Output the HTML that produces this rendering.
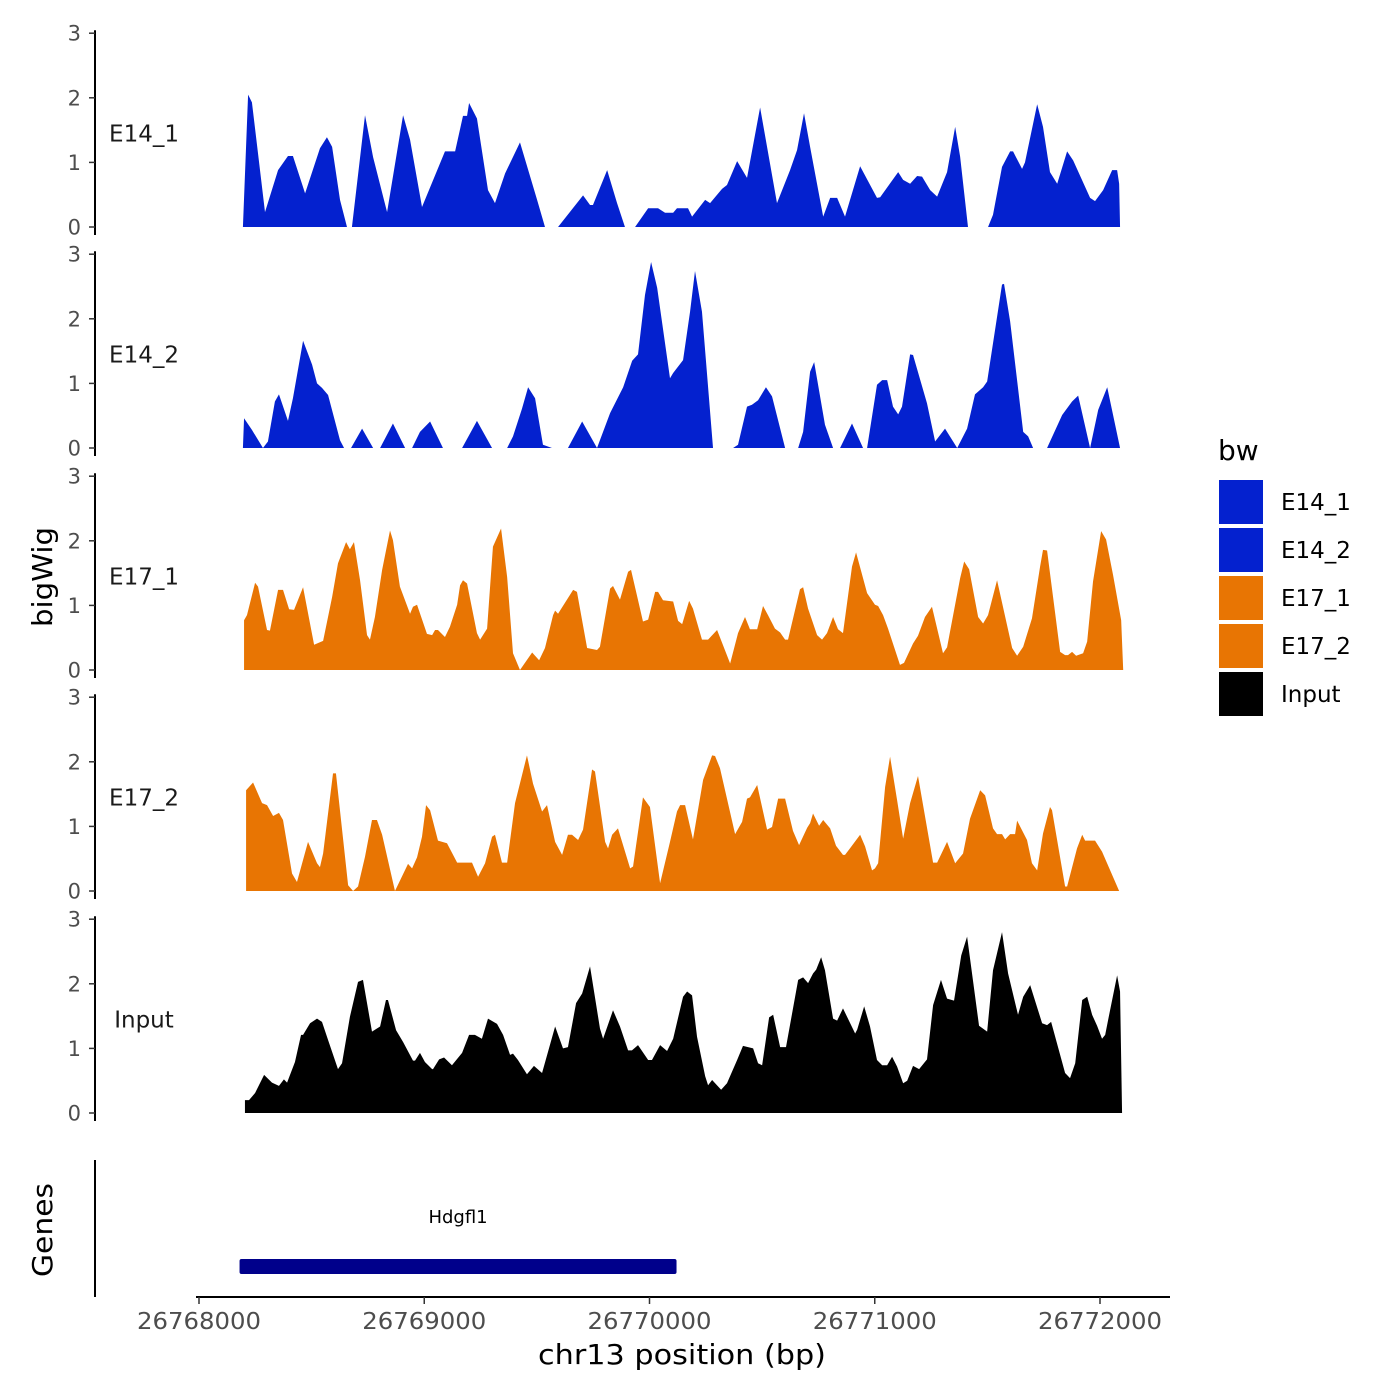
<!DOCTYPE html>
<html><head><meta charset="utf-8"><style>
html,body{margin:0;padding:0;background:#fff;}
svg{display:block;font-family:"DejaVu Sans","Liberation Sans",sans-serif;}
</style></head><body>
<svg id="chart" width="1400" height="1400" viewBox="0 0 1400 1400" xmlns="http://www.w3.org/2000/svg">
<rect width="1400" height="1400" fill="#fff"/>
<g id="tracks"></g>
<text transform="translate(52,577) rotate(-90)" text-anchor="middle" font-size="28" textLength="100" lengthAdjust="spacingAndGlyphs" fill="#000">bigWig</text>
<line x1="95" y1="1160" x2="95" y2="1297" stroke="#000" stroke-width="2"/>
<text transform="translate(52,1230) rotate(-90)" text-anchor="middle" font-size="28" textLength="94" lengthAdjust="spacingAndGlyphs" fill="#000">Genes</text>
<g id="genes"></g>
<g id="xaxis"></g>
<text x="682" y="1364" text-anchor="middle" font-size="28" textLength="288" lengthAdjust="spacingAndGlyphs" fill="#000">chr13 position (bp)</text>
<g id="legend">
<text x="1218" y="460" font-size="28" fill="#000">bw</text>
</g>
</svg>
<script>
// positions: bp offset from 26768000; values: bigWig signal
const trackNames = ["E14_1","E14_2","E17_1","E17_2","Input"];
const trackColors = ["#0421cf","#0421cf","#e87503","#e87503","#000000"];
const xTicks = [26768000,26769000,26770000,26771000,26772000];
const yTicks = [0,1,2,3];
const geneNames = ["Hdgfl1"];
const geneStarts = [26768180];
const geneEnds = [26770120];

const e14_1Pos = [195,218,235,293,351,395,417,471,537,568,591,626,657,679,737,773,835,906,937,990,1092,1137,1172,1190,1199,1234,1283,1314,1359,1425,1501,1536,1594,1705,1736,1749,1812,1856,1891,1936,1994,2038,2069,2105,2122,2171,2189,2247,2269,2322,2344,2389,2433,2491,2566,2624,2655,2686,2713,2771,2802,2833,2868,2935,3010,3024,3104,3126,3157,3188,3210,3246,3277,3321,3357,3379,3414,3503,3525,3565,3601,3614,3654,3667,3721,3747,3778,3810,3854,3881,3956,3978,4014,4054,4076,4085,4089];
const e14_1Val = [0,2.05,1.93,0.23,0.88,1.1,1.1,0.52,1.22,1.39,1.24,0.42,0,0,1.73,1.08,0.23,1.73,1.35,0.31,1.17,1.17,1.72,1.72,1.92,1.68,0.57,0.37,0.83,1.31,0.42,0,0,0.49,0.34,0.34,0.88,0.37,0,0,0.29,0.29,0.22,0.22,0.29,0.29,0.16,0.42,0.37,0.59,0.65,1.02,0.76,1.85,0.37,0.88,1.19,1.76,1.24,0.16,0.45,0.45,0.16,0.94,0.45,0.46,0.85,0.73,0.67,0.79,0.78,0.57,0.47,0.85,1.55,1.09,0,0,0.19,0.93,1.17,1.17,0.9,1.0,1.9,1.55,0.85,0.67,1.17,1.03,0.45,0.4,0.57,0.88,0.88,0.67,0];

const e14_2Pos = [195,200,235,284,306,337,355,395,417,462,502,524,546,573,626,644,675,724,773,804,861,915,946,981,1026,1083,1168,1234,1301,1368,1394,1434,1461,1492,1527,1567,1638,1701,1767,1825,1883,1923,1949,1980,2007,2034,2091,2105,2149,2180,2202,2233,2282,2371,2393,2433,2455,2482,2517,2544,2602,2660,2682,2713,2731,2779,2815,2846,2899,2948,2966,3010,3033,3055,3081,3104,3121,3157,3170,3232,3268,3312,3366,3410,3445,3481,3499,3565,3574,3601,3659,3681,3703,3765,3832,3876,3903,3956,3992,4032,4089];
const e14_2Val = [0,0.46,0.28,0,0.1,0.72,0.83,0.42,0.77,1.66,1.29,1.0,0.93,0.82,0.12,0,0,0.3,0,0,0.38,0,0,0.25,0.41,0,0,0.42,0,0,0.18,0.61,0.94,0.77,0.05,0,0,0.41,0,0.54,0.94,1.35,1.45,2.37,2.88,2.48,1.08,1.16,1.36,2.11,2.74,2.11,0,0,0.05,0.64,0.67,0.74,0.94,0.8,0,0,0.25,1.18,1.33,0.36,0,0,0.38,0,0,0.98,1.05,1.05,0.64,0.52,0.64,1.45,1.44,0.69,0.1,0.3,0,0.3,0.83,0.94,1.03,2.53,2.54,1.96,0.25,0.18,0,0,0.51,0.72,0.81,0,0.59,0.94,0];

const e17_1Pos = [200,213,249,262,302,315,351,373,400,422,462,511,551,591,617,653,670,688,715,746,759,781,813,848,861,892,937,950,968,1012,1035,1048,1061,1092,1114,1146,1159,1172,1190,1234,1248,1279,1305,1341,1368,1394,1425,1479,1510,1536,1572,1581,1594,1661,1678,1723,1767,1780,1825,1838,1869,1905,1918,1971,1994,2025,2038,2060,2105,2127,2145,2176,2193,2233,2260,2300,2358,2393,2424,2446,2478,2504,2526,2557,2580,2602,2615,2668,2682,2704,2744,2766,2788,2815,2837,2859,2899,2917,2966,3001,3015,3037,3059,3112,3130,3170,3192,3223,3254,3303,3321,3379,3397,3419,3459,3481,3503,3543,3610,3632,3659,3698,3734,3747,3765,3823,3845,3858,3876,3894,3925,3943,3969,4005,4027,4058,4094,4103];
const e17_1Val = [0.77,0.85,1.35,1.29,0.62,0.61,1.24,1.24,0.94,0.93,1.28,0.39,0.45,1.13,1.65,1.98,1.87,1.98,1.39,0.54,0.47,0.82,1.55,2.16,2.01,1.29,0.87,0.98,1.01,0.56,0.54,0.62,0.62,0.51,0.67,1.01,1.31,1.39,1.34,0.57,0.47,0.64,1.91,2.19,1.44,0.26,0,0.27,0.15,0.34,0.85,0.92,0.87,1.24,1.21,0.34,0.31,0.36,1.26,1.3,1.09,1.52,1.55,0.75,0.78,1.21,1.21,1.08,1.06,0.76,0.71,1.07,0.95,0.47,0.47,0.62,0.1,0.57,0.82,0.63,0.63,0.99,0.85,0.64,0.58,0.47,0.47,1.25,1.28,0.95,0.54,0.47,0.57,0.82,0.63,0.57,1.6,1.82,1.19,1.01,0.99,0.85,0.64,0.08,0.11,0.41,0.53,0.82,0.98,0.26,0.35,1.42,1.68,1.56,0.82,0.72,0.85,1.39,0.34,0.22,0.36,0.8,1.6,1.86,1.85,0.28,0.23,0.23,0.28,0.22,0.26,0.44,1.37,2.15,2.02,1.47,0.77,0];

const e17_2Pos = [209,240,280,302,329,355,373,413,435,484,524,537,551,595,608,662,684,706,737,768,790,813,870,928,946,968,990,1008,1026,1061,1101,1146,1212,1239,1270,1301,1314,1345,1368,1403,1456,1483,1523,1545,1581,1612,1638,1656,1683,1705,1745,1758,1803,1816,1834,1860,1914,1927,1971,2002,2047,2091,2122,2136,2158,2193,2238,2278,2291,2313,2380,2411,2433,2446,2478,2522,2544,2571,2602,2637,2664,2700,2713,2726,2753,2771,2802,2828,2859,2868,2890,2935,2957,2988,3001,3015,3046,3068,3099,3126,3157,3192,3259,3277,3321,3357,3392,3423,3468,3490,3525,3543,3565,3579,3601,3623,3632,3676,3698,3721,3747,3778,3787,3845,3854,3898,3921,3934,3978,4009,4085];
const e17_2Val = [1.56,1.68,1.36,1.33,1.16,1.21,1.1,0.27,0.14,0.76,0.43,0.37,0.58,1.82,1.82,0.09,0,0.07,0.53,1.1,1.1,0.87,0,0.42,0.35,0.52,0.84,1.33,1.25,0.78,0.74,0.44,0.44,0.22,0.43,0.84,0.87,0.44,0.44,1.36,2.1,1.66,1.23,1.33,0.76,0.56,0.87,0.87,0.79,0.95,1.88,1.85,0.76,0.66,0.87,0.97,0.35,0.38,1.45,1.3,0.12,0.76,1.23,1.33,1.33,0.8,1.72,2.1,2.09,1.9,0.88,1.07,1.43,1.45,1.64,0.95,0.99,1.43,1.43,0.93,0.71,0.98,1.05,1.2,1.01,1.1,0.97,0.7,0.56,0.56,0.66,0.87,0.69,0.32,0.35,0.43,1.61,2.08,1.41,0.81,1.36,1.78,0.44,0.44,0.76,0.43,0.58,1.12,1.56,1.48,0.97,0.88,0.88,0.8,0.88,0.88,1.09,0.79,0.43,0.32,0.89,1.3,1.25,0.07,0.07,0.66,0.87,0.78,0.78,0.61,0];

const inputPos = [204,222,249,289,324,355,377,391,426,453,462,493,524,546,573,617,635,670,706,728,768,804,830,839,875,906,950,959,981,1003,1035,1039,1066,1088,1123,1168,1199,1225,1256,1283,1323,1350,1381,1394,1416,1456,1487,1523,1581,1616,1638,1674,1701,1736,1780,1794,1838,1869,1905,1922,1949,1994,2011,2047,2078,2105,2149,2167,2189,2211,2247,2260,2278,2318,2344,2389,2415,2460,2482,2500,2531,2549,2580,2606,2660,2682,2704,2726,2740,2762,2779,2815,2833,2859,2913,2922,2953,2979,3010,3033,3055,3077,3099,3126,3144,3170,3197,3232,3259,3294,3321,3352,3384,3410,3463,3499,3525,3565,3592,3636,3659,3690,3743,3765,3783,3845,3867,3890,3921,3943,3965,3987,4009,4023,4036,4076,4089,4098];
const inputVal = [0.2,0.2,0.31,0.59,0.47,0.42,0.52,0.47,0.79,1.21,1.21,1.39,1.46,1.41,1.13,0.68,0.77,1.49,2.03,2.06,1.26,1.34,1.75,1.75,1.28,1.1,0.81,0.81,0.93,0.79,0.68,0.68,0.83,0.86,0.74,0.93,1.21,1.21,1.15,1.46,1.38,1.21,0.9,0.92,0.82,0.6,0.73,0.62,1.34,1.0,1.02,1.7,1.85,2.27,1.31,1.15,1.59,1.34,0.97,0.97,1.05,0.82,0.82,1.05,0.96,1.15,1.8,1.88,1.82,1.18,0.57,0.43,0.51,0.36,0.46,0.82,1.04,1.0,0.77,0.74,1.48,1.52,1.02,1.02,2.06,2.1,2.01,2.16,2.22,2.41,2.21,1.46,1.43,1.62,1.23,1.29,1.65,1.34,0.82,0.74,0.74,0.87,0.72,0.46,0.5,0.73,0.68,0.83,1.67,2.06,1.77,1.74,2.44,2.73,1.35,1.26,2.21,2.8,2.16,1.52,1.8,1.98,1.39,1.36,1.41,0.62,0.54,0.77,1.75,1.8,1.52,1.35,1.15,1.21,1.44,2.13,1.88,0];

const trackPos = [e14_1Pos,e14_2Pos,e17_1Pos,e17_2Pos,inputPos];
const trackVal = [e14_1Val,e14_2Val,e17_1Val,e17_2Val,inputVal];

const NS = "http://www.w3.org/2000/svg";
const panelBase = [227,448,670,891,1113];
const unitPx = 64.6;
const xOrigin = 26768000;
function xScale(bp){ return 199 + (bp - 26768000) * 0.22525; }
function yScale(panel, v){ return panelBase[panel] - v * unitPx; }
function mk(tag, attrs){ const e=document.createElementNS(NS,tag); for(const k in attrs) e.setAttribute(k,attrs[k]); return e; }

const tracks = document.getElementById('tracks');
for(let p=0;p<trackNames.length;p++){
  const g = mk('g',{});
  
  
  tracks.appendChild(g);
  const pos = trackPos[p], val = trackVal[p];
  let d = 'M' + xScale(xOrigin+pos[0]).toFixed(2) + ',' + panelBase[p];
  for(let i=0;i<pos.length;i++){
    d += 'L' + xScale(xOrigin+pos[i]).toFixed(2) + ',' + yScale(p,val[i]).toFixed(2);
  }
  d += 'L' + xScale(xOrigin+pos[pos.length-1]).toFixed(2) + ',' + panelBase[p] + 'Z';
  const area = mk('path',{d:d, fill:trackColors[p], stroke:'none'});
  
  
  g.appendChild(area);
  const axis = mk('line',{x1:95,x2:95,y1:yScale(p,3)-3,y2:panelBase[p]+8,stroke:'#000','stroke-width':2});
  
  
  g.appendChild(axis);
  for(const t of yTicks){
    const y = yScale(p,t);
    const tk = mk('line',{x1:89,x2:95,y1:y,y2:y,stroke:'#333','stroke-width':1.5});
    
    
    g.appendChild(tk);
    const tl = mk('text',{x:81,y:y+7.5,'text-anchor':'end','font-size':21,fill:'#4d4d4d'});
    
    
    tl.textContent = t;
    g.appendChild(tl);
  }
  const lbl = mk('text',{x:144,y:yScale(p,1.45)+8,'text-anchor':'middle','font-size':23,fill:'#1a1a1a'});
  
  
  lbl.textContent = trackNames[p];
  g.appendChild(lbl);
}

// genes
const genes = document.getElementById('genes');
for(let i=0;i<geneNames.length;i++){
  const x1 = xScale(geneStarts[i]), x2 = xScale(geneEnds[i]);
  const bar = mk('rect',{x:x1,y:1259,width:x2-x1,height:15,fill:'#00008b',rx:2});
  
  
  genes.appendChild(bar);
  const gl = mk('text',{x:(x1+x2)/2,y:1223,'text-anchor':'middle','font-size':18,fill:'#000'});
  
  
  gl.textContent = geneNames[i];
  genes.appendChild(gl);
}

// x axis
const xa = document.getElementById('xaxis');
const xl = mk('line',{x1:196,x2:1170,y1:1297,y2:1297,stroke:'#000','stroke-width':2});


xa.appendChild(xl);
for(const t of xTicks){
  const x = xScale(t);
  const tk = mk('line',{x1:x,x2:x,y1:1297,y2:1304,stroke:'#333','stroke-width':1.5});
  
  
  xa.appendChild(tk);
  const tl = mk('text',{x:x,y:1329,'text-anchor':'middle','font-size':23,textLength:124,lengthAdjust:'spacingAndGlyphs',fill:'#4d4d4d'});
  
  
  tl.textContent = t;
  xa.appendChild(tl);
}

// legend
const lg = document.getElementById('legend');
for(let i=0;i<trackNames.length;i++){
  const y = 480 + i*48;
  const r = mk('rect',{x:1219,y:y,width:44,height:44,fill:trackColors[i]});
  
  
  lg.appendChild(r);
  const t = mk('text',{x:1281,y:y+30,'font-size':23,fill:'#000'});
  
  
  t.textContent = trackNames[i];
  lg.appendChild(t);
}
</script>
</body></html>
